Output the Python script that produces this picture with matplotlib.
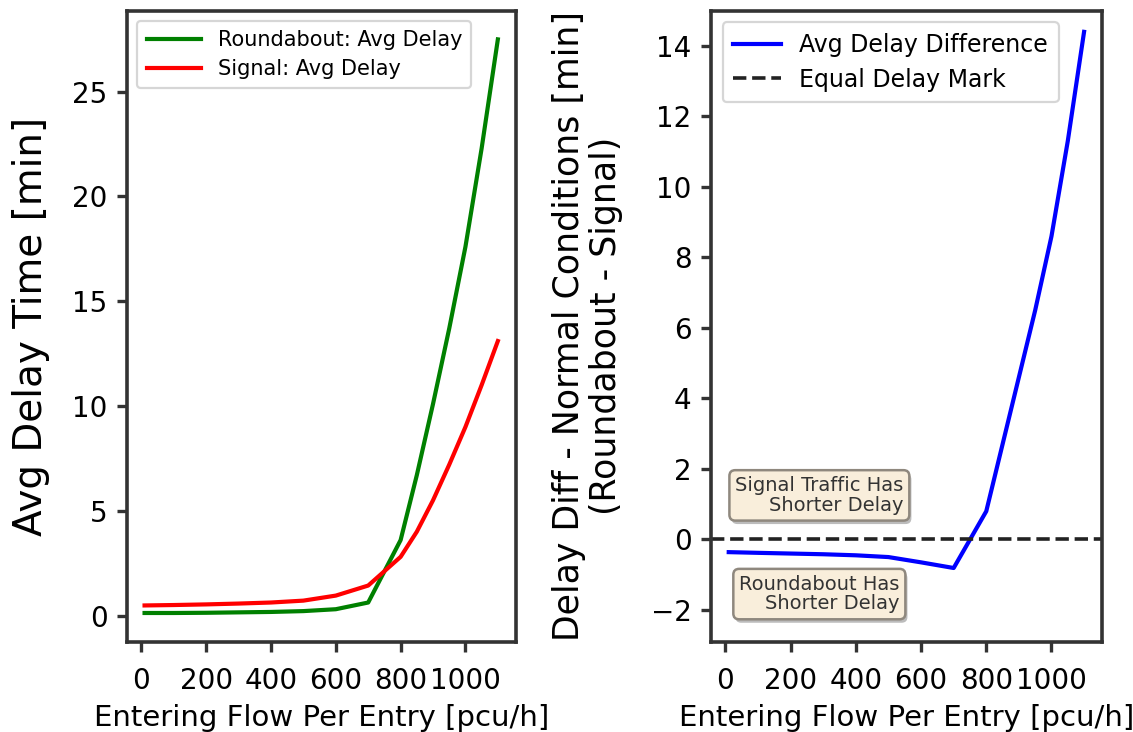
import numpy as np
import matplotlib
matplotlib.use("Agg")
import matplotlib.pyplot as plt
from matplotlib.patheffects import SimplePatchShadow, Normal

# entering flow per entry [pcu/h]
flow = [10, 100, 200, 300, 400, 500, 600, 700, 800, 850, 900, 950, 1000, 1050, 1100]
# average delay [min]
roundabout_delay = [0.12, 0.12, 0.13, 0.15, 0.17, 0.21, 0.30, 0.62, 3.6, 6.7, 10.1, 13.7, 17.6, 22.3, 27.5]
signal_delay = [0.48, 0.50, 0.53, 0.57, 0.62, 0.71, 0.95, 1.43, 2.8, 4.0, 5.5, 7.2, 9.0, 11.0, 13.1]

diff = np.array(roundabout_delay) - np.array(signal_delay)

EDGE = "#333333"

def style_axes(ax):
    for s in ax.spines.values():
        s.set_color(EDGE)
        s.set_linewidth(2.6)
    ax.tick_params(axis="both", labelsize=20, length=7, width=2.4, color=EDGE, pad=7)
    ax.tick_params(axis="x", pad=11)

def boxed_note(ax, x, y, txt):
    # opaque version of wheat @ alpha 0.5 so the shadow stays underneath
    t = ax.text(x, y, txt, fontsize=14, color="#333333", ha="left", va="center",
                multialignment="right", linespacing=1.05,
                bbox=dict(boxstyle="round,pad=0.3", facecolor="#f9eedb", edgecolor="#8f887e", lw=1.8))
    t.get_bbox_patch().set_path_effects([SimplePatchShadow(offset=(1.5, -2.5), shadow_rgbFace="#b5b5b5", alpha=0.9), Normal()])

fig = plt.figure(figsize=(11.33, 7.32), dpi=100)
ax1 = fig.add_axes([0.112, 0.1234, 0.343, 0.862])
ax2 = fig.add_axes([0.6275, 0.1234, 0.345, 0.862])

# left: delays
ax1.plot(flow, roundabout_delay, color="green", lw=3, label="Roundabout: Avg Delay")
ax1.plot(flow, signal_delay, color="red", lw=3, label="Signal: Avg Delay")
ax1.set_xlabel("Entering Flow Per Entry [pcu/h]", fontsize=21, labelpad=7)
ax1.set_ylabel("Avg Delay Time [min]", fontsize=28, labelpad=16)
ax1.set_xticks([0, 200, 400, 600, 800, 1000])
ax1.set_yticks([0, 5, 10, 15, 20, 25])
style_axes(ax1)
leg1 = ax1.legend(loc="upper left", fontsize=15, handlelength=2.6, borderpad=0.45, labelspacing=0.4)
leg1.get_frame().set_linewidth(1.6)

# right: difference
ax2.plot(flow, diff, color="blue", lw=3, label="Avg Delay Difference")
ax2.axhline(0, color="#222222", ls="--", lw=2.6, label="Equal Delay Mark")
ax2.set_ylim(-2.9, 15)
ax2.set_xlabel("Entering Flow Per Entry [pcu/h]", fontsize=21, labelpad=7)
ax2.set_ylabel("Delay Diff - Normal Conditions [min]\n(Roundabout - Signal)", fontsize=25,
               labelpad=20, linespacing=1.1)
ax2.set_xticks([0, 200, 400, 600, 800, 1000])
ax2.set_yticks([-2, 0, 2, 4, 6, 8, 10, 12, 14])
style_axes(ax2)
leg2 = ax2.legend(loc="upper left", fontsize=17, handlelength=2.0, borderpad=0.45, labelspacing=0.45)
leg2.get_frame().set_linewidth(1.6)

boxed_note(ax2, 30, 1.25, "Signal Traffic Has\nShorter Delay")
boxed_note(ax2, 42, -1.55, "Roundabout Has\nShorter Delay")

fig.savefig("out.png", dpi=100)
